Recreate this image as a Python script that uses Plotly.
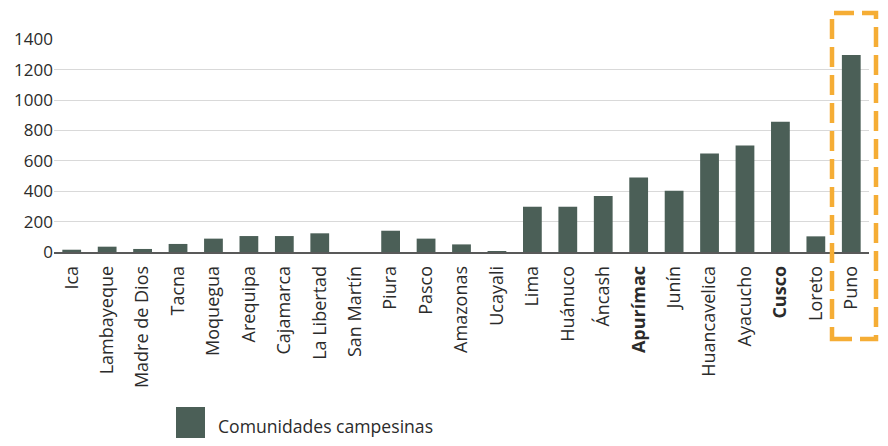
import plotly.graph_objects as go

regions = ["Ica", "Lambayeque", "Madre de Dios", "Tacna", "Moquegua", "Arequipa",
           "Cajamarca", "La Libertad", "San Martín", "Piura", "Pasco", "Amazonas",
           "Ucayali", "Lima", "Huánuco", "Áncash", "Apurímac", "Junín",
           "Huancavelica", "Ayacucho", "Cusco", "Loreto", "Puno"]
comunidades = [15, 35, 20, 53, 88, 105, 105, 123, 0, 140, 88, 50,
               2, 298, 298, 368, 491, 403, 649, 701, 857, 103, 1296]
bold_regions = ["Apurímac", "Cusco"]
tick_labels = [f"<b>{r}</b>" if r in bold_regions else r for r in regions]
y_ticks = [0, 200, 400, 600, 800, 1000, 1200, 1400]
series_name = "Comunidades campesinas"

BAR = "#4b5f57"
TXT = "#2b2b2b"
W, H = 888, 446
L, R, T, B = 54, 19, 39, 194
pw, ph = W - L - R, H - T - B

def px(xp):
    return (xp - L) / pw

def py(yp):
    return (H - B - yp) / ph

fig = go.Figure()
fig.add_trace(go.Bar(x=regions, y=comunidades, name=series_name,
                     marker=dict(color=BAR, line=dict(width=0)),
                     width=0.53, showlegend=False))

fig.update_layout(
    width=W, height=H,
    margin=dict(l=L, r=R, t=T, b=B, autoexpand=False),
    plot_bgcolor="white", paper_bgcolor="white",
    font=dict(family="Open Sans", size=17, color=TXT),
    bargap=0.47,
    xaxis=dict(tickmode="array", tickvals=regions, ticktext=tick_labels,
               tickangle=-90, showgrid=False, showline=True,
               linecolor="#595959", linewidth=1.5, ticks="",
               ticklabelstandoff=5,
               tickfont=dict(size=18, color=TXT),
               range=[-0.5, len(regions) - 0.5]),
    yaxis=dict(range=[0, 1402], tickmode="array", tickvals=y_ticks,
               showgrid=True, gridcolor="#d9d9d9", gridwidth=1,
               zeroline=False, showline=False, ticks="",
               tickfont=dict(size=17, color=TXT)),
    shapes=[
        dict(type="rect", xref="paper", yref="paper",
             x0=px(832), x1=px(876), y0=py(339), y1=py(13),
             line=dict(color="#f5ad35", width=4.5, dash="20px,8px"),
             fillcolor="rgba(0,0,0,0)", layer="above"),
        dict(type="rect", xref="paper", yref="paper",
             x0=px(176), x1=px(205), y0=py(438), y1=py(407),
             line=dict(width=0), fillcolor=BAR),
    ],
    annotations=[
        dict(text=series_name, xref="paper", yref="paper",
             x=px(216), y=py(426), xanchor="left", yanchor="middle",
             showarrow=False, font=dict(size=17.6, color=TXT)),
    ],
)

fig.write_html("out.html", config={"displayModeBar": False},
               post_script="document.body.style.margin='0';document.body.style.padding='0';")
